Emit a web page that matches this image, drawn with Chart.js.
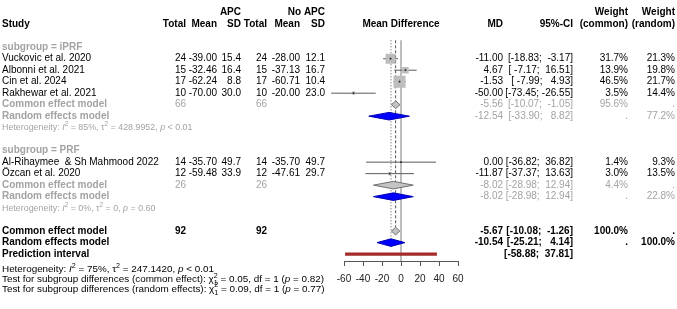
<!DOCTYPE html>
<html lang="en">
<head>
<meta charset="UTF-8">
<title>Forest plot - APC vs No APC</title>
<script src="https://cdn.jsdelivr.net/npm/chart.js"></script>
<style>
    body { margin: 0; background: #fff; }
    #forest { display: block; }
</style>
</head>
<body>
<canvas id="forest" width="677" height="309"></canvas>
<script>
// study data
const studies = ['Vuckovic et al. 2020', 'Albonni et al. 2021', 'Cin et al. 2024', 'Rakhewar et al. 2021',
                 'Al-Rihaymee  & Sh Mahmood 2022', 'Özcan et al. 2020'];
const studyGroup = ['iPRF', 'iPRF', 'iPRF', 'iPRF', 'PRF', 'PRF'];
const apcTotal = [24, 15, 17, 10, 14, 12];
const apcMean = [-39.00, -32.46, -62.24, -70.00, -35.70, -59.48];
const apcSD = [15.4, 16.4, 8.8, 30.0, 49.7, 33.9];
const ctlTotal = [24, 15, 17, 10, 14, 12];
const ctlMean = [-28.00, -37.13, -60.71, -20.00, -35.70, -47.61];
const ctlSD = [12.1, 16.7, 10.4, 23.0, 49.7, 29.7];
const md = [-11.00, 4.67, -1.53, -50.00, 0.00, -11.87];
const ciLow = [-18.83, -7.17, -7.99, -73.45, -36.82, -37.37];
const ciHigh = [-3.17, 16.51, 4.93, -26.55, 36.82, 13.63];
const wCommon = [31.7, 13.9, 46.5, 3.5, 1.4, 3.0];
const wRandom = [21.3, 19.8, 21.7, 14.4, 9.3, 13.5];

// subgroup summaries
const groups = ['iPRF', 'PRF'];
const groupTotal = [66, 26];
const groupCommon = [-5.56, -8.02];
const groupCommonLow = [-10.07, -28.98];
const groupCommonHigh = [-1.05, 12.94];
const groupCommonW = [95.6, 4.4];
const groupRandom = [-12.54, -8.02];
const groupRandomLow = [-33.90, -28.98];
const groupRandomHigh = [8.82, 12.94];
const groupRandomW = [77.2, 22.8];
const groupI2 = [85, 0];
const groupTau2 = ['428.9952', '0'];
const groupP = ['< 0.01', '= 0.60'];

// overall
const overallTotal = [92, 92];
const overallCommon = [-5.67, -10.08, -1.26];   // est, low, high
const overallRandom = [-10.54, -25.21, 4.14];
const predictInterval = [-58.88, 37.81];
const overallHet = [75, '247.1420', '< 0.01'];
const testNames = ['common effect', 'random effects'];
const testChi2 = ['0.05', '0.09'];
const testDf = [1, 1];
const testP = ['0.82', '0.77'];

const xTicks = [-60, -40, -20, 0, 20, 40, 60];

// ---- row layout ----
let r = 0;
const headRow = [], studyRow = [], gCommonRow = [], gRandomRow = [], hetRow = [];
groups.forEach((g, gi) => {
    headRow[gi] = r++;
    studies.forEach((s, i) => { if (studyGroup[i] === g) studyRow[i] = r++; });
    gCommonRow[gi] = r++;
    gRandomRow[gi] = r++;
    hetRow[gi] = r++;
    r++;
});
const oCommonRow = r, oRandomRow = r + 1, predRow = r + 2;

const Y_MIN = -3.367, Y_MAX = 18.6;
const GREY = '#a3a3a3';
const FONT = "'Liberation Sans', Arial, Helvetica, sans-serif";

function seg(x1, y1, x2, y2, extra) {
    return Object.assign({
        showLine: true, pointRadius: 0, borderWidth: 1, borderColor: '#5a5a5a',
        data: [{x: x1, y: y1}, {x: x2, y: y2}], clip: false
    }, extra);
}

function diamond(est, lo, hi, row, fillCol, lineCol) {
    const h = 0.33;
    return {
        showLine: true, pointRadius: 0, borderWidth: 1, borderColor: lineCol,
        backgroundColor: fillCol, fill: 'shape', order: 2,
        data: [{x: lo, y: row}, {x: est, y: row - h}, {x: hi, y: row}, {x: est, y: row + h}, {x: lo, y: row}]
    };
}

const datasets = [];
// reference lines
datasets.push(seg(0, -0.6, 0, Y_MAX, {borderColor: '#a8a8a8', borderWidth: 1.5, order: 6}));
datasets.push(seg(overallCommon[0], -0.6, overallCommon[0], oCommonRow - 0.35, {borderColor: '#555', borderDash: [3, 2], order: 5}));
datasets.push(seg(overallRandom[0], -0.6, overallRandom[0], oRandomRow - 0.35, {borderColor: '#555', borderDash: [1, 2], order: 5}));
// study CIs
studies.forEach((s, i) => {
    datasets.push(seg(ciLow[i], studyRow[i], ciHigh[i], studyRow[i], {order: 4}));
});
// weight squares
datasets.push({
    data: studies.map((s, i) => ({x: md[i], y: studyRow[i]})),
    pointStyle: 'rect', pointRadius: wCommon.map(w => 1.25 * Math.sqrt(w)),
    pointBorderWidth: 0, backgroundColor: '#bdbdbd', order: 3
});
datasets.push({
    data: studies.map((s, i) => ({x: md[i], y: studyRow[i]})),
    pointStyle: 'rect', pointRadius: 1.2, pointBorderWidth: 0, backgroundColor: '#222', order: 1
});
// subgroup diamonds
groups.forEach((g, gi) => {
    datasets.push(diamond(groupCommon[gi], groupCommonLow[gi], groupCommonHigh[gi], gCommonRow[gi], '#c4c4c4', '#707070'));
    datasets.push(diamond(groupRandom[gi], groupRandomLow[gi], groupRandomHigh[gi], gRandomRow[gi], '#0000ff', '#0000b0'));
});
datasets.push(diamond(overallCommon[0], overallCommon[1], overallCommon[2], oCommonRow, '#c4c4c4', '#707070'));
datasets.push(diamond(overallRandom[0], overallRandom[1], overallRandom[2], oRandomRow, '#0000ff', '#0000b0'));
datasets.push(seg(predictInterval[0], predRow, predictInterval[1], predRow,
    {borderColor: '#a52a2a', borderWidth: 3.2, borderCapStyle: 'butt', order: 2}));

// ---- text columns ----
const col = {apcTotal: 186, apcMean: 217, apcSD: 241, ctlTotal: 267, ctlMean: 300, ctlSD: 325,
             md: 503, ci: 573, wC: 628, wR: 675};

function put(ctx, str, x, y, align, opt) {
    opt = opt || {};
    ctx.font = (opt.bold ? 'bold ' : '') + (opt.size || 10) + 'px ' + FONT;
    ctx.fillStyle = opt.color || '#000';
    ctx.textAlign = align;
    ctx.textBaseline = 'middle';
    ctx.fillText(str, x, y);
}

function rich(ctx, parts, x, y, size, color) {
    ctx.textAlign = 'left';
    ctx.textBaseline = 'middle';
    ctx.fillStyle = color;
    parts.forEach(p => {
        if (p.sup || p.sub) {
            ctx.font = (size * 0.72) + 'px ' + FONT;
            let w = 0;
            if (p.sup) { ctx.fillText(p.sup, x, y - size * 0.38); w = ctx.measureText(p.sup).width; }
            if (p.sub) { ctx.fillText(p.sub, x, y + size * 0.38); w = Math.max(w, ctx.measureText(p.sub).width); }
            x += w;
        } else {
            ctx.font = (p.it ? 'italic ' : '') + size + 'px ' + FONT;
            ctx.fillText(p.t, x, y);
            x += ctx.measureText(p.t).width;
        }
    });
}

function hetParts(i2, tau2, p) {
    return [{t: 'Heterogeneity: '}, {t: 'I', it: true}, {sup: '2'}, {t: ' = ' + i2 + '%, '},
            {t: 'τ'}, {sup: '2'}, {t: ' = ' + tau2 + ', '}, {t: 'p', it: true}, {t: ' ' + p}];
}

const f2 = v => v.toFixed(2);
const ciText = (lo, hi) => '[' + f2(lo).padStart(6, ' ') + '; ' + f2(hi).padStart(6, ' ') + ']';

const textPlugin = {
    id: 'forestText',
    afterDraw(chart) {
        const ctx = chart.ctx;
        const y = v => chart.scales.y.getPixelForValue(v);
        ctx.save();
        // headers
        const hb = {bold: true};
        put(ctx, 'APC', col.apcSD, y(-3), 'right', hb);
        put(ctx, 'No APC', col.ctlSD, y(-3), 'right', hb);
        put(ctx, 'Weight', col.wC, y(-3), 'right', hb);
        put(ctx, 'Weight', col.wR, y(-3), 'right', hb);
        put(ctx, 'Study', 2, y(-2), 'left', hb);
        [['Total', col.apcTotal], ['Mean', col.apcMean], ['SD', col.apcSD], ['Total', col.ctlTotal],
         ['Mean', col.ctlMean], ['SD', col.ctlSD], ['MD', col.md], ['95%-CI', col.ci],
         ['(common)', col.wC], ['(random)', col.wR]].forEach(h => put(ctx, h[0], h[1], y(-2), 'right', hb));
        put(ctx, 'Mean Difference', chart.scales.x.getPixelForValue(0), y(-2), 'center', hb);

        // studies
        studies.forEach((s, i) => {
            const yy = y(studyRow[i]);
            put(ctx, s, 2, yy, 'left');
            put(ctx, String(apcTotal[i]), col.apcTotal, yy, 'right');
            put(ctx, f2(apcMean[i]), col.apcMean, yy, 'right');
            put(ctx, apcSD[i].toFixed(1), col.apcSD, yy, 'right');
            put(ctx, String(ctlTotal[i]), col.ctlTotal, yy, 'right');
            put(ctx, f2(ctlMean[i]), col.ctlMean, yy, 'right');
            put(ctx, ctlSD[i].toFixed(1), col.ctlSD, yy, 'right');
            put(ctx, f2(md[i]), col.md, yy, 'right');
            put(ctx, ciText(ciLow[i], ciHigh[i]), col.ci, yy, 'right');
            put(ctx, wCommon[i].toFixed(1) + '%', col.wC, yy, 'right');
            put(ctx, wRandom[i].toFixed(1) + '%', col.wR, yy, 'right');
        });

        // subgroups
        const g = {color: GREY};
        const gb = {color: GREY, bold: true};
        groups.forEach((name, gi) => {
            put(ctx, 'subgroup = ' + name, 2, y(headRow[gi]), 'left', gb);
            let yy = y(gCommonRow[gi]);
            put(ctx, 'Common effect model', 2, yy, 'left', gb);
            put(ctx, String(groupTotal[gi]), col.apcTotal, yy, 'right', g);
            put(ctx, String(groupTotal[gi]), col.ctlTotal, yy, 'right', g);
            put(ctx, f2(groupCommon[gi]), col.md, yy, 'right', g);
            put(ctx, ciText(groupCommonLow[gi], groupCommonHigh[gi]), col.ci, yy, 'right', g);
            put(ctx, groupCommonW[gi].toFixed(1) + '%', col.wC, yy, 'right', g);
            put(ctx, '.', col.wR, yy, 'right', g);
            yy = y(gRandomRow[gi]);
            put(ctx, 'Random effects model', 2, yy, 'left', gb);
            put(ctx, f2(groupRandom[gi]), col.md, yy, 'right', g);
            put(ctx, ciText(groupRandomLow[gi], groupRandomHigh[gi]), col.ci, yy, 'right', g);
            put(ctx, '.', col.wC, yy, 'right', g);
            put(ctx, groupRandomW[gi].toFixed(1) + '%', col.wR, yy, 'right', g);
            rich(ctx, hetParts(groupI2[gi], groupTau2[gi], groupP[gi]), 2, y(hetRow[gi]), 8.9, GREY);
        });

        // overall
        const b = {bold: true};
        let yy = y(oCommonRow);
        put(ctx, 'Common effect model', 2, yy, 'left', b);
        put(ctx, String(overallTotal[0]), col.apcTotal, yy, 'right', b);
        put(ctx, String(overallTotal[1]), col.ctlTotal, yy, 'right', b);
        put(ctx, f2(overallCommon[0]), col.md, yy, 'right', b);
        put(ctx, ciText(overallCommon[1], overallCommon[2]), col.ci, yy, 'right', b);
        put(ctx, '100.0%', col.wC, yy, 'right', b);
        put(ctx, '.', col.wR, yy, 'right', b);
        yy = y(oRandomRow);
        put(ctx, 'Random effects model', 2, yy, 'left', b);
        put(ctx, f2(overallRandom[0]), col.md, yy, 'right', b);
        put(ctx, ciText(overallRandom[1], overallRandom[2]), col.ci, yy, 'right', b);
        put(ctx, '.', col.wC, yy, 'right', b);
        put(ctx, '100.0%', col.wR, yy, 'right', b);
        yy = y(predRow);
        put(ctx, 'Prediction interval', 2, yy, 'left', b);
        put(ctx, ciText(predictInterval[0], predictInterval[1]), col.ci, yy, 'right', b);

        // bottom statistics
        rich(ctx, hetParts(overallHet[0], overallHet[1], overallHet[2]), 2, y(19.36), 9.9, '#000');
        testNames.forEach((t, k) => {
            rich(ctx, [{t: 'Test for subgroup differences (' + t + '): '}, {t: 'χ'}, {sup: '2', sub: String(testDf[k])},
                       {t: ' = ' + testChi2[k] + ', df = ' + testDf[k] + ' ('}, {t: 'p', it: true},
                       {t: ' = ' + testP[k] + ')'}], 2, y(20.2 + 0.84 * k), 9.9, '#000');
        });
        ctx.restore();
    }
};

Chart.defaults.font.family = FONT;
new Chart(document.getElementById('forest'), {
    type: 'scatter',
    data: {datasets: datasets},
    options: {
        responsive: false,
        animation: false,
        events: [],
        layout: {padding: {left: 344, right: 219, top: 0, bottom: 0}},
        plugins: {legend: {display: false}, tooltip: {enabled: false}},
        scales: {
            x: {
                type: 'linear', min: xTicks[0], max: xTicks[xTicks.length - 1],
                afterBuildTicks: s => { s.ticks = xTicks.map(v => ({value: v})); },
                afterFit: s => { s.height = 48; },
                border: {display: true, color: '#555', width: 1},
                grid: {drawOnChartArea: false, drawTicks: true, tickLength: 5, color: '#555'},
                ticks: {font: {size: 10}, color: '#222', padding: 7, maxRotation: 0, autoSkip: false}
            },
            y: {type: 'linear', display: false, reverse: true, min: Y_MIN, max: Y_MAX}
        }
    },
    plugins: [textPlugin]
});
</script>
</body>
</html>
